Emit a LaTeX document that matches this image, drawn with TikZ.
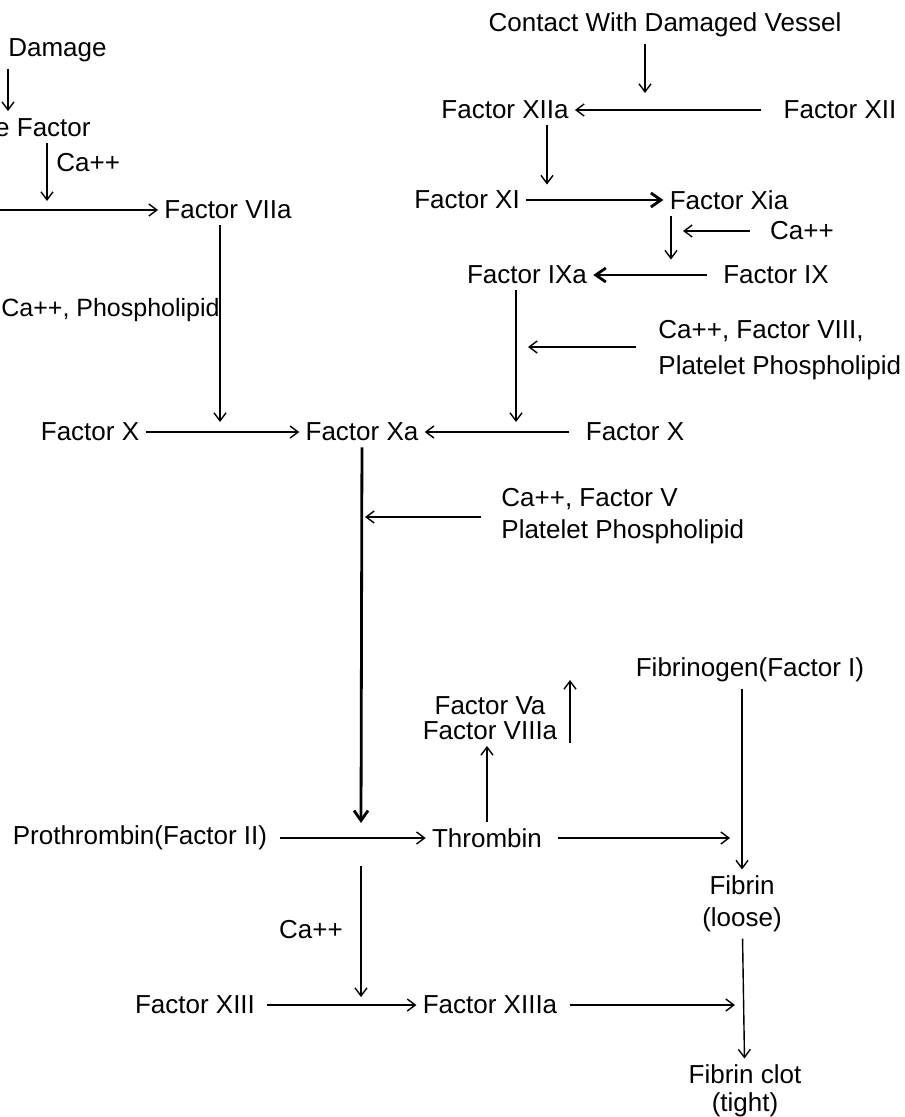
\documentclass[tikz,border=0pt]{standalone}
\usepackage{fontspec}
\setmainfont{Liberation Sans}
\usetikzlibrary{positioning, calc, arrows.meta}

\tikzset{
  lbl/.style={inner sep=3pt, font=\fontsize{13}{16}\selectfont},
  arr/.style={-{Straight Barb[length=4pt,width=6pt]}, line width=0.7pt},
  thickarr/.style={-{Straight Barb[length=5pt,width=7pt]}, line width=1.4pt},
}

\begin{document}
\begin{tikzpicture}[x=0.5pt, y=-0.5pt]
    \useasboundingbox (0,0) rectangle (904,1117);
    \clip (0,0) rectangle (904,1117);

    % Extrinsic side
    \node[lbl, anchor=east] (tdam) at (113,50) {Tissue Damage};
    \node[lbl, anchor=east] (tfac) at (97,127) {Tissue Factor};
    \node[lbl, anchor=west] (catf) at (50,163) {Ca++};
    \coordinate (vii) at (-2,210);
    \node[lbl] (viia) at (228,210) {Factor VIIa};
    \node[lbl, anchor=west, inner sep=0pt, font=\fontsize{12.5}{15}\selectfont] (caphos) at (1,310) {Ca++, Phospholipid};
    \node[lbl] (xl) at (90,432) {Factor X};
    \node[lbl] (xa) at (362,432) {Factor Xa};
    \node[lbl] (xr) at (635,432) {Factor X};

    % Intrinsic side
    \node[lbl] (contact) at (665,25) {Contact With Damaged Vessel};
    \node[lbl] (xiia) at (505,110) {Factor XIIa};
    \node[lbl] (xii) at (840,110) {Factor XII};
    \node[lbl] (xi) at (467,200) {Factor XI};
    \node[lbl] (xia) at (729,200) {Factor Xia};
    \node[lbl] (caone) at (802,231) {Ca++};
    \node[lbl] (ixa) at (527,275) {Factor IXa};
    \node[lbl] (ix) at (776,275) {Factor IX};
    \node[lbl, anchor=west, align=left, font=\fontsize{13}{18}\selectfont] (caviii) at (652,350) {Ca++, Factor VIII,\\Platelet Phospholipid};

    % Common pathway
    \node[lbl, anchor=west, align=left] (cav) at (495,516) {Ca++, Factor V\\Platelet Phospholipid};
    \node[lbl] (fibgen) at (750,670) {Fibrinogen(Factor I)};
    \node[lbl, align=center, font=\fontsize{13}{12.5}\selectfont] (vaviii) at (490,718) {Factor Va\\Factor VIIIa};
    \node[lbl] (pro) at (140,838) {Prothrombin(Factor II)};
    \node[lbl] (thr) at (487,838) {Thrombin};
    \node[lbl, align=center] (fibrin) at (742,904) {Fibrin\\(loose)};
    \node[lbl, align=center, font=\fontsize{13}{14}\selectfont] (clot) at (745,1091) {Fibrin clot\\(tight)};
    \node[lbl] (catwo) at (311,930) {Ca++};
    \node[lbl] (xiii) at (195,1005) {Factor XIII};
    \node[lbl] (xiiia) at (490,1005) {Factor XIIIa};

    % Junction points
    \coordinate (xdam) at (8,0);
    \coordinate (xtf) at (47,0);
    \coordinate (jtf) at (47,201);
    \coordinate (jvii) at (220,422);
    \coordinate (jix) at (516,422);
    \coordinate (jviii) at (528,347);
    \coordinate (jcont) at (645,93);
    \coordinate (xxi) at (547,0);
    \coordinate (xxia) at (671,0);
    \coordinate (jca) at (683,231);
    \coordinate (jxa) at (361,823);
    \coordinate (jv) at (365,517);
    \coordinate (vaup) at (570,743);
    \coordinate (vauptip) at (570,680);
    \coordinate (jthr) at (730,838);
    \coordinate (jcatop) at (361,866);
    \coordinate (jcabot) at (361,997);
    \coordinate (jxiiia) at (735,1005);

    % Extrinsic arrows
    \draw[arr] (tdam.south -| xdam) -- (tfac.north -| xdam);
    \draw[arr] (tfac.south -| xtf) -- (jtf);
    \draw[arr] (vii) -- (viia.west);
    \draw[arr] (viia.south -| jvii) -- (jvii);
    \draw[arr] (xl) -- (xa);

    % Intrinsic arrows
    \draw[arr] (contact.south -| jcont) -- (jcont);
    \draw[arr, shorten <=8pt] (xii) -- (xiia);
    \draw[arr] (xiia.south -| xxi) -- (xi.north -| xxi);
    \draw[thickarr] (xi) -- (xia);
    \draw[arr] (xia.south -| xxia) -- (ixa.north -| xxia);
    \draw[arr, shorten <=7pt] (caone) -- (jca);
    \draw[thickarr, shorten <=5pt] (ix) -- (ixa);
    \draw[arr] (ixa.south -| jix) -- (jix);
    \draw[arr, shorten <=8pt] (caviii.west |- jviii) -- (jviii);
    \draw[arr, shorten <=5pt] (xr) -- (xa);

    % Common arrows
    \draw[thickarr] (xa) -- (jxa);
    \draw[arr, shorten <=7pt] (cav.west |- jv) -- (jv);
    \draw[arr, shorten <=3pt] (pro) -- (thr);
    \draw[arr] (thr.north) -- (vaviii.south -| thr.north);
    \draw[arr] (vaup) -- (vauptip);
    \draw[arr, shorten <=5pt] (thr) -- (jthr);
    \draw[arr] (fibgen.south -| fibrin.north) -- (fibrin.north);
    \draw[arr] (fibrin) -- (clot);
    \draw[arr] (jcatop) -- (jcabot);
    \draw[arr, shorten <=3pt] (xiii) -- (xiiia);
    \draw[arr, shorten <=3pt] (xiiia) -- (jxiiia);
\end{tikzpicture}
\end{document}
